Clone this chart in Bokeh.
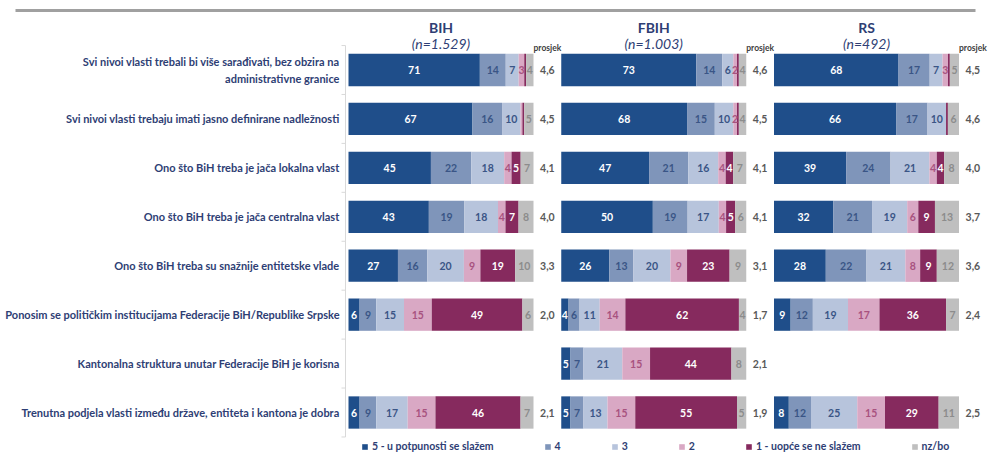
from bokeh.plotting import figure
from bokeh.models import Range1d, ColumnDataSource, Legend, LegendItem
from bokeh.core.properties import value
from bokeh.embed import file_html
from bokeh.resources import INLINE

# ---------------- data ----------------
statements = [
    "Svi nivoi vlasti trebali bi više sarađivati, bez obzira na\nadministrativne granice",
    "Svi nivoi vlasti trebaju imati jasno definirane nadležnosti",
    "Ono što BiH treba je jača lokalna vlast",
    "Ono što BiH treba je jača centralna vlast",
    "Ono što BiH treba su snažnije entitetske vlade",
    "Ponosim se političkim institucijama Federacije BiH/Republike Srpske",
    "Kantonalna struktura unutar Federacije BiH je korisna",
    "Trenutna podjela vlasti između države, entiteta i kantona je dobra",
]
panels = ["BIH", "FBIH", "RS"]
panel_n = ["(n=1.529)", "(n=1.003)", "(n=492)"]
categories = ["5 - u potpunosti se slažem", "4", "3", "2", "1 - uopće se ne slažem", "nz/bo"]

bih = [[71, 14, 7, 3, 1, 4], [67, 16, 10, 1, 1, 5], [45, 22, 18, 4, 5, 7], [43, 19, 18, 4, 7, 8],
       [27, 16, 20, 9, 19, 10], [6, 9, 15, 15, 49, 6], None, [6, 9, 17, 15, 46, 7]]
fbih = [[73, 14, 6, 2, 1, 4], [68, 15, 10, 2, 1, 4], [47, 21, 16, 4, 4, 7], [50, 19, 17, 4, 5, 6],
        [26, 13, 20, 9, 23, 9], [4, 6, 11, 14, 62, 4], [5, 7, 21, 15, 44, 8], [5, 7, 13, 15, 55, 5]]
rs = [[68, 17, 7, 3, 1, 5], [66, 17, 10, 0, 1, 6], [39, 24, 21, 4, 4, 8], [32, 21, 19, 6, 9, 13],
      [28, 22, 21, 8, 9, 12], [9, 12, 19, 17, 36, 7], None, [8, 12, 25, 15, 29, 11]]

bih_avg = ["4,6", "4,5", "4,1", "4,0", "3,3", "2,0", None, "2,1"]
fbih_avg = ["4,6", "4,5", "4,1", "4,1", "3,1", "1,7", "2,1", "1,9"]
rs_avg = ["4,5", "4,6", "4,0", "3,7", "3,6", "2,4", None, "2,5"]

panel_data = [bih, fbih, rs]
panel_avg = [bih_avg, fbih_avg, rs_avg]

# ---------------- style ----------------
colors = ["#1F4E8A", "#7F95BA", "#B7C4DC", "#D9A8C4", "#862A5E", "#BFBFBF"]
text_colors = ["white", "#3A5586", "#3A5586", "#A8527F", "white", "#8C8C8C"]
NAVY = "#2E3E74"
FONT = "Lato"
PANEL_STEP = 115      # x offset between panels (bar = 100 units)
AVG_POS = 107.5       # average column position inside a panel
BAR_H = 0.66

W, H = 991, 456
# pixel helpers for layout (screen px -> data units)
SX0, SX = 348.0, 1.85
SY0, SY = 69.5, 48.93
def px2x(px):
    return (px - SX0) / SX
def py2y(py):
    return (py - SY0) / SY

p = figure(width=W, height=H, x_range=Range1d(px2x(0), px2x(W)), y_range=Range1d(py2y(H), py2y(0)),
           output_backend="svg", toolbar_location=None, x_axis_type=None, y_axis_type=None,
           min_border=0)
p.outline_line_color = None
p.background_fill_color = "white"

# header rule
p.segment(x0=[px2x(15)], x1=[px2x(975)], y0=[py2y(10)], y1=[py2y(10)], line_color="#A0A0A0", line_width=3)

# category axis line with boundary ticks
n = len(statements)
ax = px2x(345)
p.segment(x0=[ax], x1=[ax], y0=[-0.5], y1=[n - 0.5], line_color="#D9D9D9", line_width=1)
p.segment(x0=[px2x(341)] * (n + 1), x1=[ax] * (n + 1), y0=[i - 0.5 for i in range(n + 1)],
          y1=[i - 0.5 for i in range(n + 1)], line_color="#D9D9D9", line_width=1)

# statement labels
p.text(x=[px2x(339)] * n, y=list(range(n)), text=statements, text_align="right", text_baseline="middle",
       text_font=value(FONT), text_font_style="bold", text_font_size="11px", text_color=NAVY,
       text_line_height=1.3)

# bars
renderers = []
lab_x, lab_y, lab_t, lab_c = [], [], [], []
for ci, cat in enumerate(categories):
    ys, lefts, rights = [], [], []
    for k, data in enumerate(panel_data):
        off = k * PANEL_STEP
        for i, row in enumerate(data):
            if row is None:
                continue
            tot = float(sum(row))
            before = sum(row[:ci]) / tot * 100
            after = sum(row[:ci + 1]) / tot * 100
            ys.append(i)
            lefts.append(off + before)
            rights.append(off + after)
            if row[ci] >= 2:
                lab_x.append(off + (before + after) / 2)
                lab_y.append(i)
                lab_t.append(str(row[ci]))
                lab_c.append(text_colors[ci])
    src = ColumnDataSource(dict(y=ys, left=lefts, right=rights))
    r = p.hbar(y="y", left="left", right="right", height=BAR_H, source=src,
               fill_color=colors[ci], line_color=None)
    renderers.append(r)

p.text(x=lab_x, y=lab_y, text=lab_t, text_color=lab_c, text_align="center", text_baseline="middle",
       text_font=value(FONT), text_font_style="bold", text_font_size="10.5px")

# averages, headers
for k in range(len(panels)):
    off = k * PANEL_STEP
    avgs = panel_avg[k]
    ax_, ay_, at_ = [], [], []
    for i, a in enumerate(avgs):
        if a is None:
            continue
        ax_.append(off + AVG_POS)
        ay_.append(i)
        at_.append(a)
    p.text(x=ax_, y=ay_, text=at_, text_align="center", text_baseline="middle", text_color="#595959",
           text_font=value(FONT), text_font_style="bold", text_font_size="10.5px")
    p.text(x=[off + 50], y=[py2y(27)], text=[panels[k]], text_align="center", text_baseline="middle",
           text_color=NAVY, text_font=value(FONT), text_font_style="bold", text_font_size="14px")
    p.text(x=[off + 50], y=[py2y(43)], text=[panel_n[k]], text_align="center", text_baseline="middle",
           text_color=NAVY, text_font=value(FONT), text_font_style="italic", text_font_size="14px")
    p.text(x=[off + AVG_POS], y=[py2y(47)], text=["prosjek"], text_align="center", text_baseline="middle",
           text_color="#404040", text_font=value(FONT), text_font_style="bold", text_font_size="8.5px")

legend = Legend(items=[LegendItem(label=c, renderers=[r]) for c, r in zip(categories, renderers)],
                orientation="horizontal", location=(361, 4), padding=0, margin=0, spacing=50,
                glyph_width=7, glyph_height=7, label_standoff=4, label_height=10, label_width=1,
                label_text_font=FONT, label_text_font_style="bold", label_text_font_size="10.5px",
                label_text_color=NAVY, background_fill_alpha=0, border_line_color=None)
p.add_layout(legend, "center")

open("out.html", "w").write(file_html(p, INLINE))
